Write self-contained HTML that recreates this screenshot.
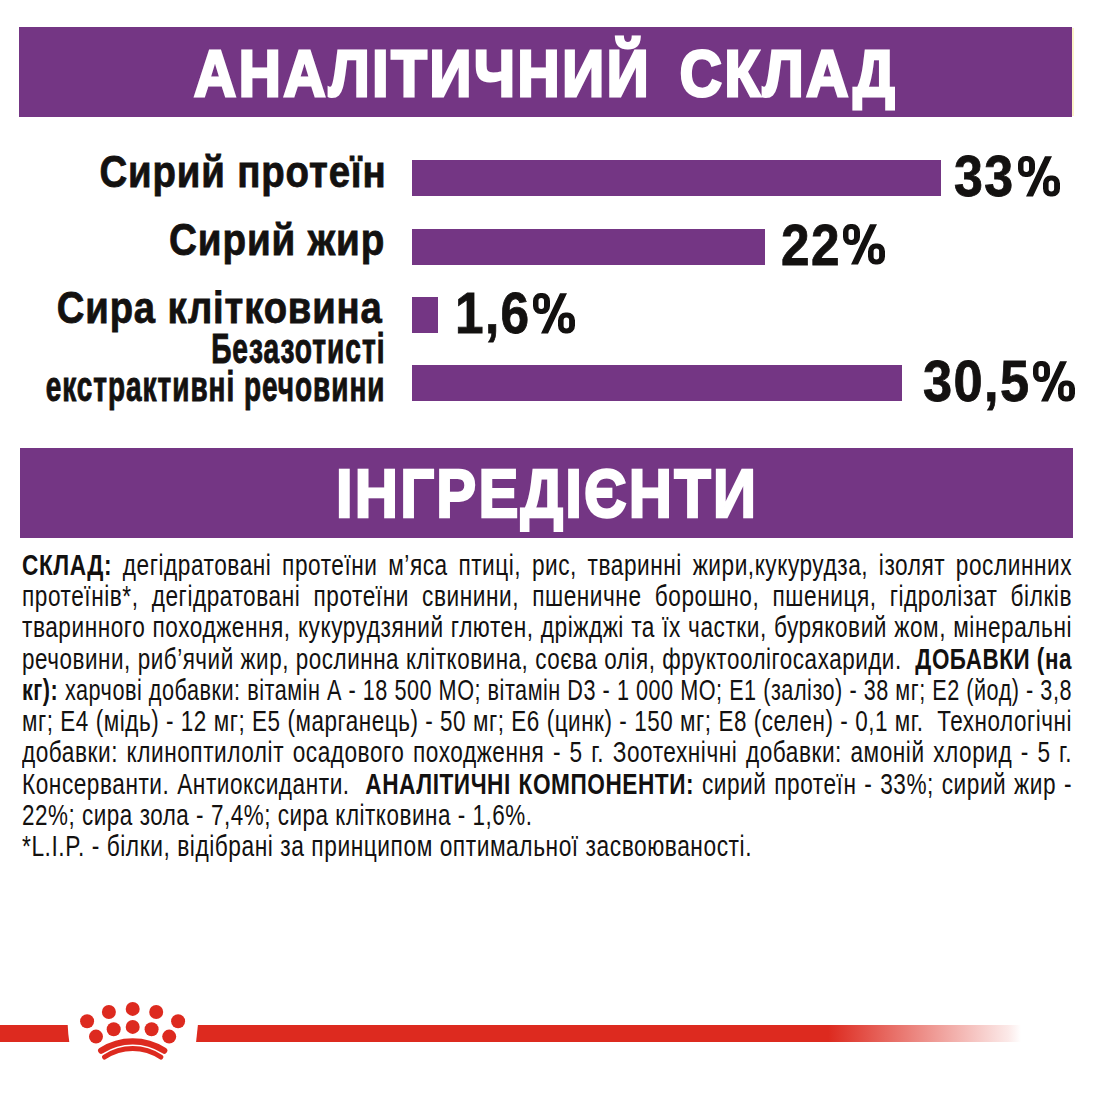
<!DOCTYPE html>
<html><head><meta charset="utf-8"><style>
html,body{margin:0;padding:0;background:#fff;}
body{width:1093px;height:1093px;position:relative;overflow:hidden;font-family:"Liberation Sans",sans-serif;}
.a{position:absolute;}
.t{position:absolute;white-space:nowrap;line-height:1;}
.bar{position:absolute;background:#743684;}
.jl{position:absolute;white-space:nowrap;line-height:1;text-align:justify;text-align-last:justify;transform-origin:0 0;color:#131110;font-size:29px;}
.jl b{font-weight:bold;}
</style></head><body>

<div class="bar" style="left:19px;top:27px;width:1052.5px;height:90px"></div>
<div class="a" style="left:1072px;top:28px;width:1.5px;height:88px;background:#fbf3c8"></div>
<div class="bar" style="left:20px;top:447.5px;width:1053px;height:90px"></div>
<div class="bar" style="left:412px;top:160px;width:529px;height:36px"></div>
<div class="bar" style="left:412px;top:228.5px;width:353px;height:36px"></div>
<div class="bar" style="left:412px;top:296.5px;width:26px;height:36.5px"></div>
<div class="bar" style="left:412px;top:365px;width:490px;height:36px"></div>
<div class="t" id="h1" style="left:193.62px;top:41.08px;font-size:65px;transform:scaleX(0.8951);transform-origin:0 0;letter-spacing:3px;word-spacing:11px;-webkit-text-stroke:3px #fff;font-weight:bold;color:#fff">АНАЛІТИЧНИЙ СКЛАД</div>
<div class="t" id="h2" style="left:335.58px;top:459.81px;font-size:68.5px;transform:scaleX(0.8735);transform-origin:0 0;letter-spacing:2.5px;-webkit-text-stroke:2.5px #fff;font-weight:bold;color:#fff">ІНГРЕДІЄНТИ</div>
<div class="t" id="lab1" style="right:706.3399999999999px;top:149.68px;font-size:44.2px;transform:scaleX(0.8687);transform-origin:100% 0;letter-spacing:1.0px;-webkit-text-stroke:0.8px #131110;font-weight:bold;color:#131110">Сирий протеїн</div>
<div class="t" id="lab2" style="right:708.2px;top:217.68px;font-size:44.2px;transform:scaleX(0.8747);transform-origin:100% 0;letter-spacing:1.0px;-webkit-text-stroke:0.8px #131110;font-weight:bold;color:#131110">Сирий жир</div>
<div class="t" id="lab3" style="right:709.99px;top:286.28px;font-size:44.2px;transform:scaleX(0.8651);transform-origin:100% 0;letter-spacing:1.0px;-webkit-text-stroke:0.8px #131110;font-weight:bold;color:#131110">Сира клітковина</div>
<div class="t" id="lab4" style="right:707.06px;top:326.70px;font-size:43px;transform:scaleX(0.6541);transform-origin:100% 0;letter-spacing:1.5px;-webkit-text-stroke:1px #131110;font-weight:bold;color:#131110">Безазотисті</div>
<div class="t" id="lab5" style="right:707.0899999999999px;top:364.60px;font-size:43px;transform:scaleX(0.6504);transform-origin:100% 0;letter-spacing:1.5px;-webkit-text-stroke:1px #131110;font-weight:bold;color:#131110">екстрактивні речовини</div>
<div class="t" id="p1" style="left:954.21px;top:148.92px;font-size:56.8px;transform:scaleX(0.9139);transform-origin:0 0;letter-spacing:1.5px;-webkit-text-stroke:0.8px #131110;font-weight:bold;color:#131110">33</div>
<div class="t" id="p2" style="left:781.0px;top:217.62px;font-size:56.8px;transform:scaleX(0.9045);transform-origin:0 0;letter-spacing:1.5px;-webkit-text-stroke:0.8px #131110;font-weight:bold;color:#131110">22</div>
<div class="t" id="p3" style="left:455.33px;top:285.82px;font-size:56.8px;transform:scaleX(0.9044);transform-origin:0 0;letter-spacing:1.5px;-webkit-text-stroke:0.8px #131110;font-weight:bold;color:#131110">1,6</div>
<div class="t" id="p4" style="left:922.72px;top:353.92px;font-size:56.8px;transform:scaleX(0.9216);transform-origin:0 0;letter-spacing:1.5px;-webkit-text-stroke:0.8px #131110;font-weight:bold;color:#131110">30,5</div>
<svg class="a" id="pc0" style="left:1017.9px;top:156.2px;overflow:visible" width="42" height="41" viewBox="0 0 42 41"><path fill="#131110" fill-rule="evenodd" d="M7.5,0 H9.5 A7.5,8 0 0 1 17,8 V13.1 A7.5,8 0 0 1 9.5,21.1 H7.5 A7.5,8 0 0 1 0,13.1 V8 A7.5,8 0 0 1 7.5,0 Z M8.25,5 A2.75,2.75 0 0 0 5.5,7.75 V13.35 A2.75,2.75 0 0 0 11,13.35 V7.75 A2.75,2.75 0 0 0 8.25,5 Z M32.5,19.4 H34.5 A7.5,8 0 0 1 42,27.4 V32.6 A7.5,8 0 0 1 34.5,40.6 H32.5 A7.5,8 0 0 1 25,32.6 V27.4 A7.5,8 0 0 1 32.5,19.4 Z M33.35,24.6 A2.75,2.75 0 0 0 30.6,27.35 V32.85 A2.75,2.75 0 0 0 36.1,32.85 V27.35 A2.75,2.75 0 0 0 33.35,24.6 Z M27,0.2 H34 L15,40.6 H8 Z"/></svg>
<svg class="a" id="pc1" style="left:843.45px;top:224.3px;overflow:visible" width="42" height="41" viewBox="0 0 42 41"><path fill="#131110" fill-rule="evenodd" d="M7.5,0 H9.5 A7.5,8 0 0 1 17,8 V13.1 A7.5,8 0 0 1 9.5,21.1 H7.5 A7.5,8 0 0 1 0,13.1 V8 A7.5,8 0 0 1 7.5,0 Z M8.25,5 A2.75,2.75 0 0 0 5.5,7.75 V13.35 A2.75,2.75 0 0 0 11,13.35 V7.75 A2.75,2.75 0 0 0 8.25,5 Z M32.5,19.4 H34.5 A7.5,8 0 0 1 42,27.4 V32.6 A7.5,8 0 0 1 34.5,40.6 H32.5 A7.5,8 0 0 1 25,32.6 V27.4 A7.5,8 0 0 1 32.5,19.4 Z M33.35,24.6 A2.75,2.75 0 0 0 30.6,27.35 V32.85 A2.75,2.75 0 0 0 36.1,32.85 V27.35 A2.75,2.75 0 0 0 33.35,24.6 Z M27,0.2 H34 L15,40.6 H8 Z"/></svg>
<svg class="a" id="pc2" style="left:533px;top:292.9px;overflow:visible" width="42" height="41" viewBox="0 0 42 41"><path fill="#131110" fill-rule="evenodd" d="M7.5,0 H9.5 A7.5,8 0 0 1 17,8 V13.1 A7.5,8 0 0 1 9.5,21.1 H7.5 A7.5,8 0 0 1 0,13.1 V8 A7.5,8 0 0 1 7.5,0 Z M8.25,5 A2.75,2.75 0 0 0 5.5,7.75 V13.35 A2.75,2.75 0 0 0 11,13.35 V7.75 A2.75,2.75 0 0 0 8.25,5 Z M32.5,19.4 H34.5 A7.5,8 0 0 1 42,27.4 V32.6 A7.5,8 0 0 1 34.5,40.6 H32.5 A7.5,8 0 0 1 25,32.6 V27.4 A7.5,8 0 0 1 32.5,19.4 Z M33.35,24.6 A2.75,2.75 0 0 0 30.6,27.35 V32.85 A2.75,2.75 0 0 0 36.1,32.85 V27.35 A2.75,2.75 0 0 0 33.35,24.6 Z M27,0.2 H34 L15,40.6 H8 Z"/></svg>
<svg class="a" id="pc3" style="left:1032.9px;top:360.9px;overflow:visible" width="42" height="41" viewBox="0 0 42 41"><path fill="#131110" fill-rule="evenodd" d="M7.5,0 H9.5 A7.5,8 0 0 1 17,8 V13.1 A7.5,8 0 0 1 9.5,21.1 H7.5 A7.5,8 0 0 1 0,13.1 V8 A7.5,8 0 0 1 7.5,0 Z M8.25,5 A2.75,2.75 0 0 0 5.5,7.75 V13.35 A2.75,2.75 0 0 0 11,13.35 V7.75 A2.75,2.75 0 0 0 8.25,5 Z M32.5,19.4 H34.5 A7.5,8 0 0 1 42,27.4 V32.6 A7.5,8 0 0 1 34.5,40.6 H32.5 A7.5,8 0 0 1 25,32.6 V27.4 A7.5,8 0 0 1 32.5,19.4 Z M33.35,24.6 A2.75,2.75 0 0 0 30.6,27.35 V32.85 A2.75,2.75 0 0 0 36.1,32.85 V27.35 A2.75,2.75 0 0 0 33.35,24.6 Z M27,0.2 H34 L15,40.6 H8 Z"/></svg>
<div class="jl" id="L0" style="left:22px;top:550.95px;width:1346.15px;transform:scaleX(0.78);font-size:29px;letter-spacing:0.7px;"><b>СКЛАД:</b> дегідратовані протеїни м’яса птиці, рис, тваринні жири,кукурудза, ізолят рослинних</div>
<div class="jl" id="L1" style="left:22px;top:582.20px;width:1346.15px;transform:scaleX(0.78);font-size:29px;letter-spacing:0.7px;">протеїнів*, дегідратовані протеїни свинини, пшеничне борошно, пшениця, гідролізат білків</div>
<div class="jl" id="L2" style="left:22px;top:613.45px;width:1346.15px;transform:scaleX(0.78);font-size:29px;letter-spacing:0.7px;">тваринного походження, кукурудзяний глютен, дріжджі та їх частки, буряковий жом, мінеральні</div>
<div class="jl" id="L3" style="left:22px;top:644.70px;width:1357.47px;transform:scaleX(0.7735);font-size:29px;letter-spacing:0.7px;">речовини, риб’ячий жир, рослинна клітковина, соєва олія, фруктоолігосахариди.&nbsp; <b>ДОБАВКИ (на</b></div>
<div class="jl" id="L4" style="left:22px;top:675.95px;width:1408.07px;transform:scaleX(0.7457);font-size:29px;letter-spacing:0.7px;"><b>кг):</b> харчові добавки: вітамін А - 18 500 МО; вітамін D3 - 1 000 МО; Е1 (залізо) - 38 мг; Е2 (йод) - 3,8</div>
<div class="jl" id="L5" style="left:22px;top:707.20px;width:1355.19px;transform:scaleX(0.7748);font-size:29px;letter-spacing:0.7px;">мг; Е4 (мідь) - 12 мг; Е5 (марганець) - 50 мг; Е6 (цинк) - 150 мг; Е8 (селен) - 0,1 мг.&nbsp; Технологічні</div>
<div class="jl" id="L6" style="left:22px;top:738.45px;width:1346.15px;transform:scaleX(0.78);font-size:29px;letter-spacing:0.7px;">добавки: клиноптилоліт осадового походження - 5 г. Зоотехнічні добавки: амоній хлорид - 5 г.</div>
<div class="jl" id="L7" style="left:22px;top:769.70px;width:1346.15px;transform:scaleX(0.78);font-size:29px;letter-spacing:0.7px;">Консерванти. Антиоксиданти.&nbsp; <b>АНАЛІТИЧНІ КОМПОНЕНТИ:</b> сирий протеїн - 33%; сирий жир -</div>
<div class="jl" id="L8" style="left:22px;top:800.95px;transform:scaleX(0.773);font-size:29px;text-align:left;text-align-last:left;letter-spacing:0.7px;">22%; сира зола - 7,4%; сира клітковина - 1,6%.</div>
<div class="jl" id="L9" style="left:22px;top:832.20px;transform:scaleX(0.784);font-size:29px;text-align:left;text-align-last:left;letter-spacing:0.7px;">*L.I.P. - білки, відібрані за принципом оптимальної засвоюваності.</div>
<svg class="a" style="left:0;top:0" width="1093" height="1093" viewBox="0 0 1093 1093">
<defs><linearGradient id="g" x1="0" x2="1" y1="0" y2="0">
<stop offset="0.7666" stop-color="#DD2A1F"/><stop offset="0.985" stop-color="#DD2A1F" stop-opacity="0.1"/><stop offset="1" stop-color="#DD2A1F" stop-opacity="0"/></linearGradient></defs>
<polygon points="0,1025 67.7,1025 68.3,1034 69.3,1042 0,1042" fill="#DD2A1F"/>
<polygon points="197.9,1025 1021,1025 1021,1042 196.1,1042" fill="url(#g)"/>
<g fill="#DD2A1F">
<circle cx="87.1" cy="1021.3" r="7"/><circle cx="108.9" cy="1012" r="7"/><circle cx="132.7" cy="1008.9" r="7"/><circle cx="156.2" cy="1012" r="7"/><circle cx="178.1" cy="1021.3" r="7"/>
<circle cx="96" cy="1036.6" r="7"/><circle cx="113.7" cy="1029.2" r="7"/><circle cx="132.7" cy="1026.9" r="7"/><circle cx="151.6" cy="1029.2" r="7"/><circle cx="169.2" cy="1036.6" r="7"/>
</g>
<path d="M101.2,1050.6 A58,58 0 0 1 164.2,1050.6" fill="none" stroke="#DD2A1F" stroke-width="6.3" stroke-linecap="round"/>
<path d="M104.6,1057 A50.5,50.5 0 0 1 160.8,1057" fill="none" stroke="#DD2A1F" stroke-width="5" stroke-linecap="round"/>
</svg>
</body></html>
